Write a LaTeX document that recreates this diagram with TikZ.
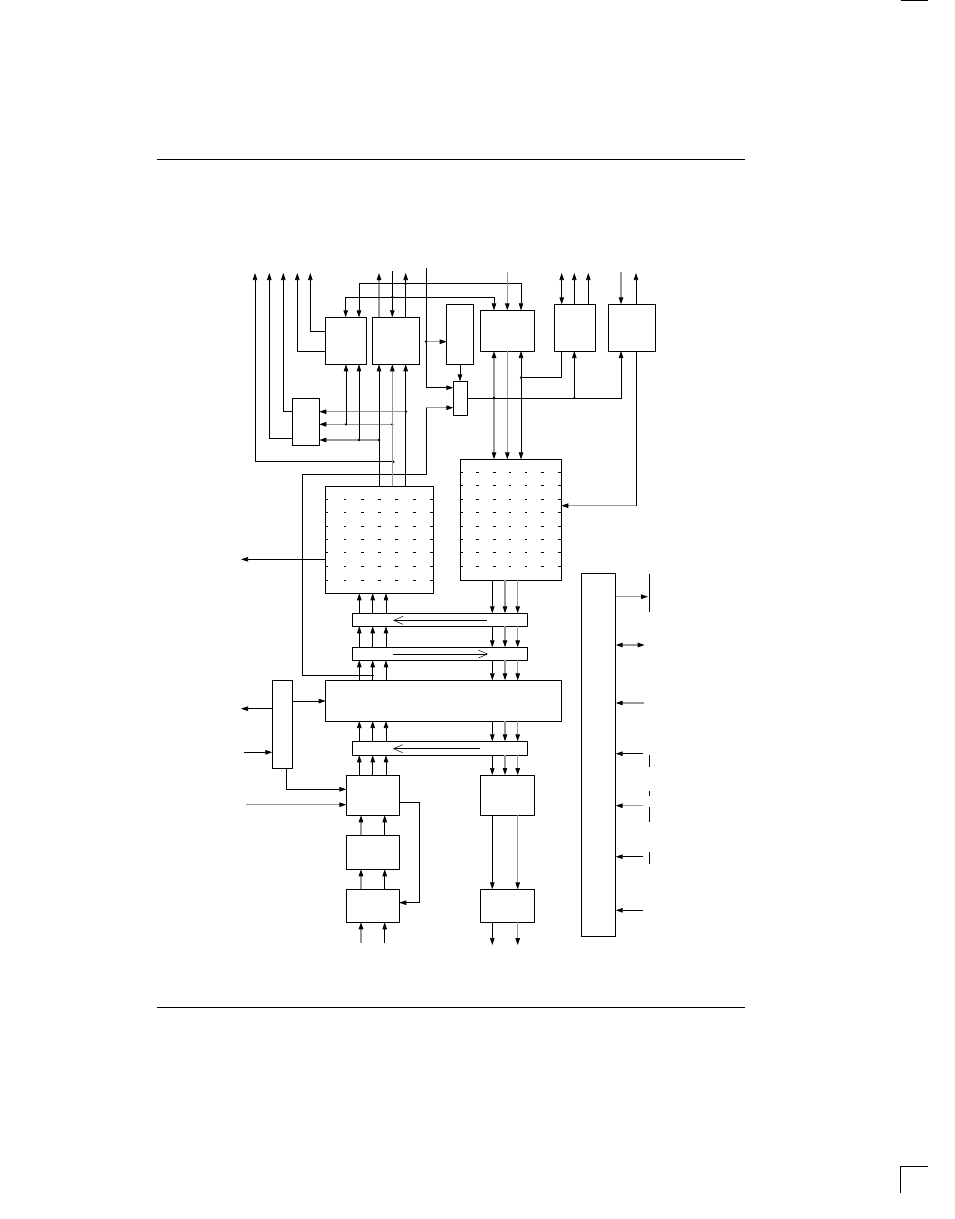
\documentclass[tikz,border=0pt]{standalone}
\usetikzlibrary{arrows.meta}
\begin{document}
\begin{tikzpicture}[x=1pt,y=-1pt,line width=0.7pt,
  >={Triangle[length=7pt,width=4.5pt,color=black]},
  box/.style={draw,line width=0.8pt},
  gl/.style={draw=black!40,line width=1.1pt},
  dt/.style={circle,fill,inner sep=0.9pt},
  op/.style={-{Straight Barb[open,length=9pt,width=8pt,line width=0.5pt]},line width=0.6pt}]
\useasboundingbox (0,0) rectangle (954,1219);
% page marks
\draw[line width=0.6pt] (157,159) -- (745,159);
\draw[line width=0.6pt] (157,1007) -- (745,1007);
\draw[line width=1pt] (900.5,0.5) -- (927.5,0.5);
\draw[line width=1pt] (900.5,1193) -- (900.5,1166) -- (928,1166);
% boxes
\draw[box] (325.7,317.3) rectangle (366.3,364.3);
\draw[box] (372.7,317.3) rectangle (419.3,364.3);
\draw[box] (446.7,304.3) rectangle (473.3,364.3);
\draw[box] (480.3,310.3) rectangle (534.3,351);
\draw[box] (554.3,304.3) rectangle (595.3,351);
\draw[box] (608.3,304.3) rectangle (655.3,351);
\draw[box] (453.3,381.3) rectangle (467.3,415);
\draw[box] (292.3,398.3) rectangle (319.3,445);
\draw[box] (325.7,486) rectangle (433.3,593.3);
\draw[box] (460.7,459.3) rectangle (561.3,580);
\draw[box] (352.3,613.3) rectangle (527.3,626.3);
\draw[box] (352.3,647.3) rectangle (527.3,660.3);
\draw[box] (325.7,680.3) rectangle (561.3,721);
\draw[box] (272.3,680.3) rectangle (292.3,768.3);
\draw[box] (581.7,573.3) rectangle (615.7,936.3);
\draw[box] (352.3,741.3) rectangle (527.3,755.3);
\draw[box] (346.3,775) rectangle (399.3,815.3);
\draw[box] (346.3,835.3) rectangle (399.3,869.3);
\draw[box] (346.3,889.3) rectangle (399.3,922.3);
\draw[box] (480.3,775) rectangle (534.3,815.3);
\draw[box] (480.3,889.3) rectangle (534.3,922.3);
% grid dashes
\foreach \y in {499,512.7,526,539.3,552.7,566,580}
  \foreach \x in {327,345,362.3,379.7,396.7,414.3,431.5}
    \draw[line width=0.5pt] (\x-1.3,\y) -- (\x+1.3,\y);
\foreach \y in {472,485.7,499,512.7,526,539.3,552.7,566}
  \foreach \x in {462,477.7,494.3,510,526,542.7,559.3}
    \draw[line width=0.5pt] (\x-1.3,\y) -- (\x+1.3,\y);
% left outputs
\draw[->] (325.7,331.3) -- (310.3,331.3) -- (310.3,273);
\draw[->] (325.7,351) -- (297.3,351) -- (297.3,273);
\draw[->] (292.3,411.7) -- (283.3,411.7) -- (283.3,273);
\draw[->] (292.3,438.3) -- (269.3,438.3) -- (269.3,273);
\draw[->] (393.3,461.7) node[dt]{} -- (255,461.7) -- (255,273);
% B top
\draw[gl,->] (379,317.3) -- (379,273);
\draw[->] (392.3,271) -- (392.3,317.3);
\draw[->] (405.7,317.3) -- (405.7,273);
\draw[->] (392.3,297) node[dt]{} -- (345.7,297) -- (345.7,317.3);
\draw[->] (392.3,297) -- (494,297) -- (494,310.3);
\draw[->] (405.7,283.7) node[dt]{} -- (359,283.7) -- (359,317.3);
\draw[->] (405.7,283.7) -- (521,283.7) -- (521,310.3);
\draw[gl,->] (507.3,272) -- (507.3,310.3);
% vertical x=426
\draw[->] (426,268) -- (426,387.7) -- (453.3,387.7);
\draw[gl,->] (426,341.7) node[dt]{} -- (446.7,341.7);
\draw[->] (460,364.3) -- (460,381.3);
\draw[gl,->] (426,407.7) -- (453.3,407.7);
\draw (426,407.7) -- (426,474.3) -- (302.7,474.3) -- (302.7,675) -- (373.7,675);
% E, F top
\draw[<->] (561.7,273) -- (561.7,304.3);
\draw[->] (574.3,304.3) -- (574.3,273);
\draw[->] (588.3,304.3) -- (588.3,273);
\draw[gl,->] (621,272) -- (621,304.3);
\draw[->] (636,304.3) -- (636,273);
% D bottom to grid2
\draw[gl,<->] (494,351) -- (494,459.3);
\draw[gl,->] (507.3,351) -- (507.3,459.3);
\draw[<->] (521,351) -- (521,459.3);
\draw (561.7,351) -- (561.7,377.7) -- (521,377.7) node[dt]{};
\draw[->] (467.3,398) -- (621,398) -- (621,351);
\node[dt] at (494,398) {};
\draw[->] (574.3,398) node[dt]{} -- (574.3,351);
\draw (636,351) -- (636,505.7);
\draw[gl,->] (636,505.7) -- (561.3,505.7);
% H inputs
\draw[gl,->] (406,411.7) node[dt]{} -- (319.3,411.7);
\draw[gl,->] (392.3,424.3) node[dt]{} -- (319.3,424.3);
\draw[gl,->] (379,440) node[dt]{} -- (319.3,440);
\draw[->] (346,424.3) node[dt]{} -- (346,364.3);
\draw[->] (359,440) node[dt]{} -- (359,364.3);
\draw[->] (379,486) -- (379,364.3);
\draw[gl,->] (392.3,486) -- (392.3,364.3);
\draw[->] (405.7,486) -- (405.7,364.3);
% grid1 left output
\draw[->] (325.7,559.3) -- (241,559.3);
% left column up arrows
\foreach \x in {359.3,372.7,386}{
  \draw[->] (\x,613.3) -- (\x,593.3);
  \draw[->] (\x,647.3) -- (\x,626.3);
  \draw[->] (\x,680.3) -- (\x,660.3);
  \draw[->] (\x,741.3) -- (\x,721);
  \draw[->] (\x,775) -- (\x,755.3);
}
% right column down arrows
\foreach \x/\s in {492.3/draw,505/gl,517.7/gl}{
  \draw[\s,->] (\x,580) -- (\x,613.3);
  \draw[\s,->] (\x,626.3) -- (\x,647.3);
  \draw[\s,->] (\x,660.3) -- (\x,680.3);
  \draw[\s,->] (\x,721) -- (\x,741.3);
  \draw[\s,->] (\x,755.3) -- (\x,775);
}
% hollow arrows in bars
\draw[op] (486.7,620.3) -- (393.3,620.3);
\draw[op] (392.6,654) -- (488,654);
\draw[op] (480,748.7) -- (393,748.7);
% left narrow block
\draw[->] (292.3,701) -- (325.7,701);
\draw[->] (272.3,708.7) -- (241,708.7);
\draw[->] (244,752.3) -- (272.3,752.3);
\draw[->] (286,768.3) -- (286,789.3) -- (346.3,789.3);
\draw[gl,->] (246,804.7) -- (346.3,804.7);
\draw[->] (399.3,802) -- (419.7,802) -- (419.7,902.7) -- (399.3,902.7);
% J K L
\draw[gl,->] (361,835.3) -- (361,815.3);
\draw[->] (384.7,835.3) -- (384.7,815.3);
\draw[gl,->] (361,889.3) -- (361,869.3);
\draw[->] (384.7,889.3) -- (384.7,869.3);
\draw[gl,->] (361,943) -- (361,922.3);
\draw[->] (384.7,943) -- (384.7,922.3);
% M N
\draw[->] (492.3,815.3) -- (492.3,889.3);
\draw[gl,->] (517.7,815.3) -- (517.7,889.3);
\draw[->] (492.3,922.3) -- (492.3,945);
\draw[gl,->] (517.7,922.3) -- (517.7,945);
% right tall block
\draw[gl,->] (615.7,596.7) -- (648,596.7);
\draw[line width=0.6pt] (649,574) -- (649,611.7);
\draw[gl,<->] (615.7,645) -- (644.7,645);
\draw[gl,->] (643.7,703) -- (615.7,703);
\draw[->] (643,753.7) -- (615.7,753.7);
\draw[line width=0.6pt] (649,755) -- (649,766.7);
\draw[gl,->] (643,805.7) -- (615.7,805.7);
\draw[line width=0.6pt] (649,791) -- (649,796) (649,807) -- (649,822);
\draw[->] (643,856.7) -- (615.7,856.7);
\draw[line width=0.6pt] (649,851.7) -- (649,864);
\draw[->] (643,910.3) -- (615.7,910.3);
\end{tikzpicture}
\end{document}
